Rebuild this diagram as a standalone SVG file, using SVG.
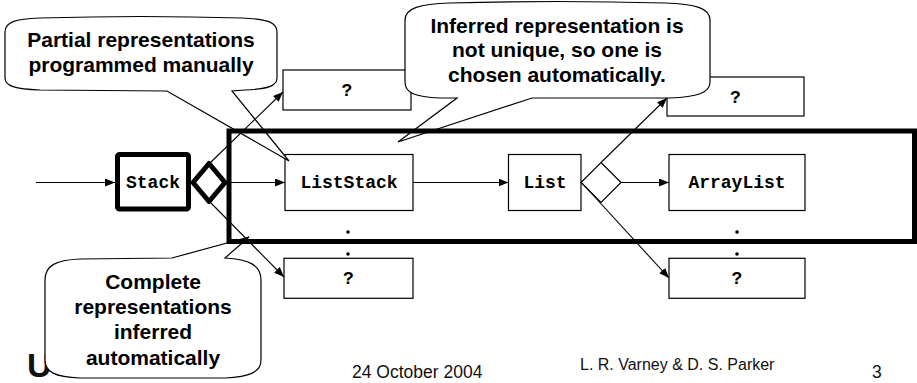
<svg xmlns="http://www.w3.org/2000/svg" width="917" height="383" viewBox="0 0 917 383">
<style>
.box{fill:#fff;stroke:#000;stroke-width:1.2}
.thick{fill:#fff;stroke:#000;stroke-width:5;stroke-linejoin:round}
.mono{font-family:"Liberation Mono","Courier New",monospace;font-weight:bold;font-size:18px;text-anchor:middle;fill:#000}
.call{fill:#fff;stroke:#000;stroke-width:1.2;stroke-linejoin:miter}
.ct{font-family:"Liberation Sans",Arial,sans-serif;font-weight:bold;font-size:21px;text-anchor:middle;fill:#000}
.foot{font-family:"Liberation Sans",Arial,sans-serif;fill:#111}
.conn{fill:none;stroke:#000;stroke-width:1.1}
.dot{fill:#000}
</style>
<defs>
<marker id="arr" markerWidth="10" markerHeight="8" refX="10" refY="4" orient="auto" markerUnits="userSpaceOnUse"><path d="M0,0 L10,4 L0,8 Z" fill="#000"/></marker>
</defs>

<g id="footer">
<text class="foot" x="27" y="377" font-size="34" font-weight="bold">U</text>
<text class="foot" x="352" y="378" font-size="17.5">24 October 2004</text>
<text class="foot" x="580" y="370" font-size="16">L. R. Varney &amp; D. S. Parker</text>
<text class="foot" x="872" y="378" font-size="17.5">3</text>
</g>

<g id="node-stack"><rect class="thick" x="117.5" y="154.5" width="71" height="54.5" rx="2"/><text class="mono" x="153" y="188">Stack</text></g>
<g id="node-diamond1"><path class="thick" d="M209,163.5 L225,182.5 L209,201.5 L193,182.5 Z"/></g>
<g id="node-q1"><rect class="box" x="283" y="70" width="128" height="40"/><text class="mono" x="347" y="96">?</text></g>
<g id="node-liststack"><rect class="box" x="285" y="154.5" width="128" height="56"/><text class="mono" x="349" y="188">ListStack</text></g>
<g id="node-q2"><rect class="box" x="284" y="258.3" width="129" height="40"/><text class="mono" x="348.5" y="284">?</text></g>
<g id="node-list"><rect class="box" x="508.5" y="154.5" width="72.5" height="56"/><text class="mono" x="545" y="188">List</text></g>
<g id="node-diamond2"><path class="box" d="M601,162.5 L621,182.5 L601,202.5 L581,182.5 Z"/></g>
<g id="node-q3"><rect class="box" x="667" y="77" width="137" height="39"/><text class="mono" x="735.5" y="102.5">?</text></g>
<g id="node-arraylist"><rect class="box" x="669" y="154.5" width="136" height="56"/><text class="mono" x="737" y="188">ArrayList</text></g>
<g id="node-q4"><rect class="box" x="669" y="258.3" width="136" height="40"/><text class="mono" x="737" y="284">?</text></g>
<g id="dots">
<circle class="dot" cx="348" cy="232" r="1.8"/><circle class="dot" cx="348" cy="254" r="1.8"/>
<circle class="dot" cx="737" cy="232" r="1.8"/><circle class="dot" cx="737" cy="254" r="1.8"/>
</g>

<g id="callout-partial">
<path class="call" d="M5,32 C5,22 15,19 40,18 Q141,15 242,18 C267,19 277,22 277,32 L277,78 C277,86 268,89 245,90 L232,91 L289,161 L167,91 L40,90 C15,89 5,86 5,78 Z"/>
<text class="ct" x="141" y="46.5">Partial representations</text>
<text class="ct" x="141" y="72">programmed manually</text>
</g>
<g id="callout-inferred">
<path class="call" d="M405,20 C405,8 420,4 450,3 Q557,0 665,3 C695,4 710,8 710,20 L710,82 C710,93 697,97 670,98 L532,98 L398,142 L457,98 L440,98 C415,97 405,93 405,82 Z"/>
<text class="ct" x="557" y="32.5">Inferred representation is</text>
<text class="ct" x="557" y="57">not unique, so one is</text>
<text class="ct" x="557" y="81.5">chosen automatically.</text>
</g>
<g id="callout-complete">
<path class="call" d="M45,280 C45,266 55,260 80,259 L172,258 L249,237 L225,258 C250,259 261,266 261,280 L261,360 C261,372 250,377 225,378 L80,378 C55,377 45,372 45,360 Z"/>
<text class="ct" x="153" y="288.5">Complete</text>
<text class="ct" x="153" y="313.5">representations</text>
<text class="ct" x="153" y="339">inferred</text>
<text class="ct" x="153" y="364.5">automatically</text>
</g>

<g id="frame"><rect x="229" y="131" width="685.5" height="110.5" fill="none" stroke="#000" stroke-width="5"/></g>

<g id="connectors">
<line class="conn" x1="36" y1="182.5" x2="115" y2="182.5" marker-end="url(#arr)"/>
<line class="conn" x1="225" y1="182.5" x2="285" y2="182.5" marker-end="url(#arr)"/>
<line class="conn" x1="210" y1="163" x2="283" y2="92" marker-end="url(#arr)"/>
<line class="conn" x1="210" y1="202" x2="284" y2="277" marker-end="url(#arr)"/>
<line class="conn" x1="413" y1="182.5" x2="508.5" y2="182.5" marker-end="url(#arr)"/>
<line class="conn" x1="621" y1="182.5" x2="669" y2="182.5" marker-end="url(#arr)"/>
<line class="conn" x1="601" y1="162.5" x2="667" y2="98" marker-end="url(#arr)"/>
<line class="conn" x1="582" y1="183" x2="669" y2="278" marker-end="url(#arr)"/>
</g>
</svg>
